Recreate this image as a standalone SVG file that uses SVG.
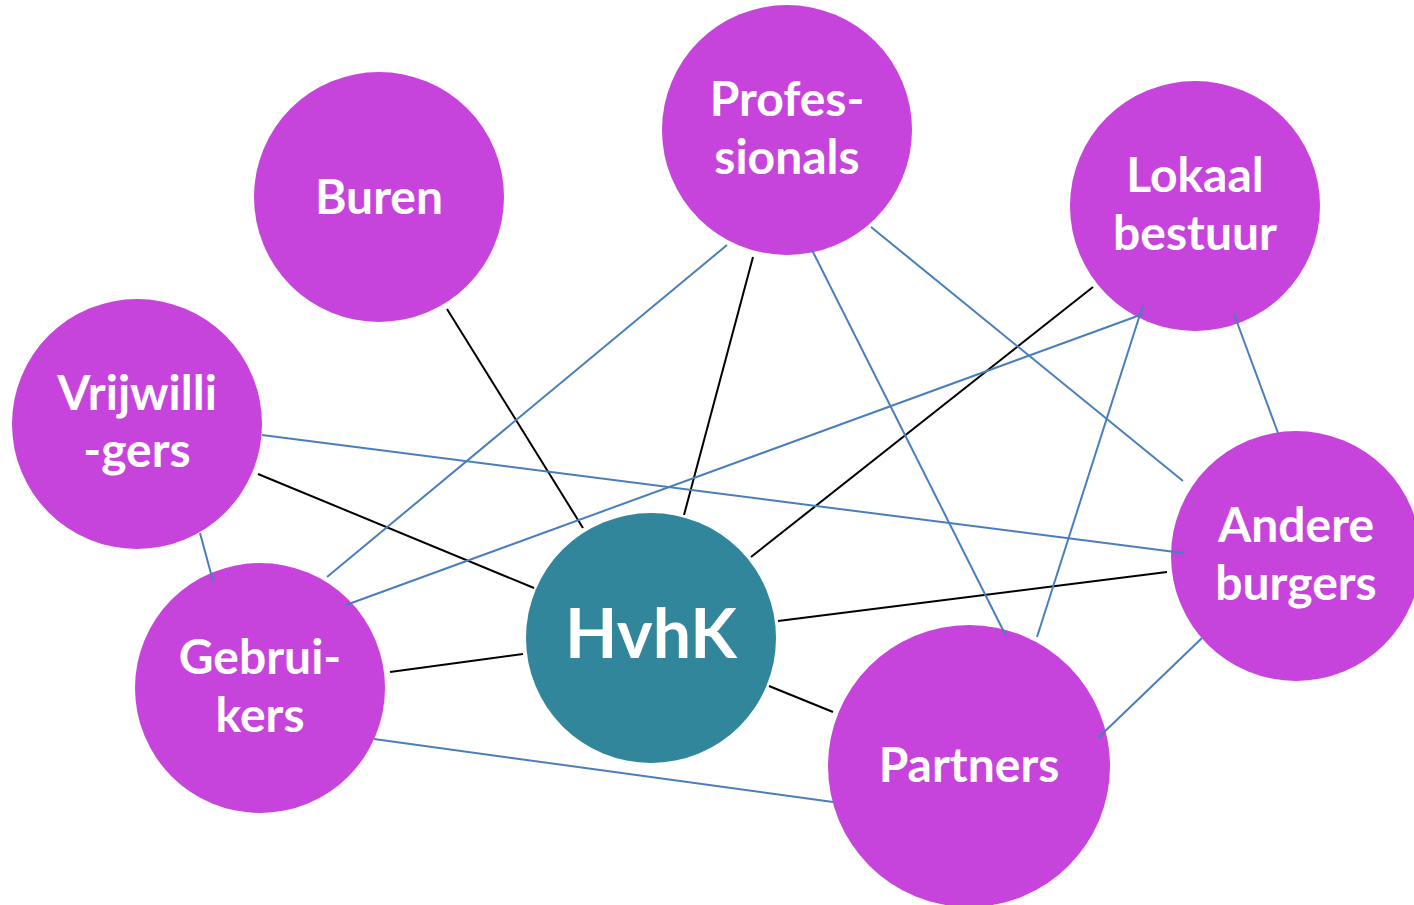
<svg xmlns="http://www.w3.org/2000/svg" width="1414" height="905" viewBox="0 0 1414 905">
<style>
.n{fill:#C744DC}
.c{fill:#31869C}
.t{font-family:Lato,"Open Sans",sans-serif;font-weight:bold;font-size:48px;fill:#FFFFFF;text-anchor:middle}
.big{font-size:68px}
.k{stroke:#000000;stroke-width:2;fill:none}
.b{stroke:#4A7EBB;stroke-width:2;fill:none}
</style>
<rect width="1414" height="905" fill="#FFFFFF"/>
<g id="nodes">
<g id="buren"><circle class="n" cx="379" cy="197" r="125"/><text class="t" x="379" y="214">Buren</text></g>
<g id="professionals"><circle class="n" cx="787" cy="130" r="125"/><text class="t" x="787" y="116">Profes-</text><text class="t" x="787" y="174">sionals</text></g>
<g id="lokaal"><circle class="n" cx="1195" cy="206" r="125"/><text class="t" x="1195" y="192">Lokaal</text><text class="t" x="1195" y="250">bestuur</text></g>
<g id="vrijwilligers"><circle class="n" cx="137" cy="424" r="125"/><text class="t" x="137" y="410">Vrijwilli</text><text class="t" x="137" y="467">-gers</text></g>
<g id="andere"><circle class="n" cx="1296" cy="556" r="125"/><text class="t" x="1296" y="542">Andere</text><text class="t" x="1296" y="600">burgers</text></g>
<g id="gebruikers"><circle class="n" cx="260" cy="688" r="125"/><text class="t" x="260" y="674">Gebrui-</text><text class="t" x="260" y="732">kers</text></g>
<g id="partners"><circle class="n" cx="969" cy="766" r="141"/><text class="t" x="969" y="782">Partners</text></g>
<g id="hvhk"><circle class="c" cx="651" cy="638" r="125"/><text class="t big" x="651" y="658">HvhK</text></g>
</g>
<g id="connectors">
<line class="k" x1="447" y1="309" x2="583" y2="528"/>
<line class="k" x1="753" y1="257" x2="684" y2="515"/>
<line class="k" x1="1093" y1="287" x2="751" y2="557"/>
<line class="k" x1="258" y1="474" x2="534" y2="588"/>
<line class="k" x1="390" y1="672" x2="523" y2="654"/>
<line class="k" x1="778" y1="621" x2="1167" y2="572"/>
<line class="k" x1="769" y1="686" x2="833" y2="712"/>
<line class="b" x1="727" y1="245" x2="327" y2="577"/>
<line class="b" x1="812" y1="250" x2="1006" y2="636"/>
<line class="b" x1="871" y1="227" x2="1183" y2="481"/>
<line class="b" x1="1143" y1="314" x2="346" y2="605"/>
<line class="b" x1="1143" y1="305" x2="1037" y2="637"/>
<line class="b" x1="1234" y1="314" x2="1278" y2="433"/>
<line class="b" x1="262" y1="435" x2="1183" y2="553"/>
<line class="b" x1="200" y1="533" x2="213" y2="581"/>
<line class="b" x1="374" y1="739" x2="833" y2="802"/>
<line class="b" x1="1202" y1="638" x2="1098" y2="738"/>
</g>
</svg>
